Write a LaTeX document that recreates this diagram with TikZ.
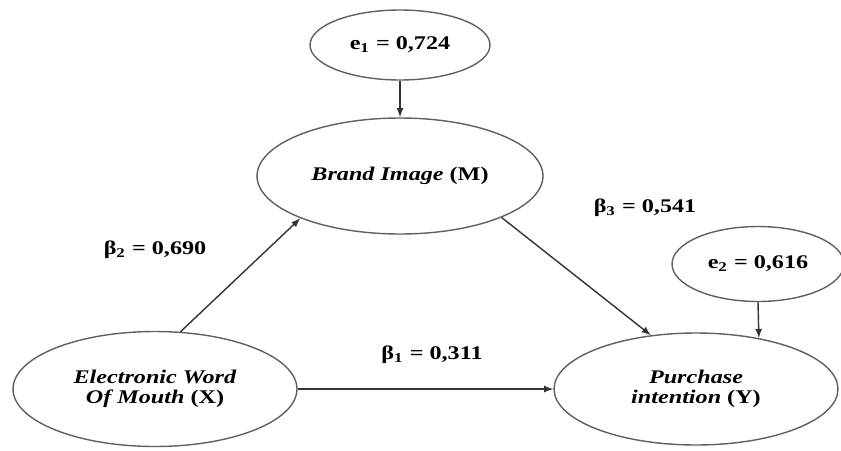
\documentclass[tikz,border=0pt]{standalone}
\usepackage{fontspec}
\setmainfont{Liberation Serif}
\usetikzlibrary{shapes,arrows}
\newcommand{\wtext}[1]{\scalebox{1.25}[1]{#1}}
\tikzstyle{latent}=[draw=gray!75!black, line width=0.8pt, ellipse, inner sep=0pt, align=center, font=\fontsize{11}{11.5}\selectfont\bfseries]
\tikzstyle{coef}=[font=\fontsize{11}{11.5}\selectfont\bfseries]
\tikzstyle{arrow}=[draw=black!80, line width=0.8pt, -latex]

\begin{document}
\begin{tikzpicture}[x=0.02cm,y=-0.02cm]
\useasboundingbox (0,0) rectangle (841,450);

\node (eone) [latent, minimum width=3.6cm, minimum height=1.4cm] at (400,45) {\wtext{e\textsubscript{1} = 0,724}};
\node (brand) [latent, minimum width=5.72cm, minimum height=2.32cm] at (400,176) {\wtext{\textit{Brand Image} (M)}};
\node (ewom) [latent, minimum width=5.68cm, minimum height=2.3cm] at (155,389) {\wtext{\textit{Electronic Word}}\\ \wtext{\textit{Of Mouth} (X)}};
\node (pi) [latent, minimum width=5.68cm, minimum height=2.24cm] at (696,389) {\wtext{\textit{Purchase}}\\ \wtext{\textit{intention} (Y)}};
\node (etwo) [latent, minimum width=3.44cm, minimum height=1.5cm] at (758,264) {\wtext{e\textsubscript{2} = 0,616}};

\node (btwo) [coef] at (155,250) {\wtext{β\textsubscript{2} = 0,690}};
\node (bthree) [coef] at (645,208) {\wtext{β\textsubscript{3} = 0,541}};
\node (bone) [coef] at (432,355) {\wtext{β\textsubscript{1} = 0,311}};

\draw [arrow] (eone) -- (brand);
\draw [arrow] (ewom.66) -- (brand.-157);
\draw [arrow] (brand.south east) -- (pi.130);
\draw [arrow] (ewom.east) -- (pi.west);
\draw [arrow] (etwo.south) -- (pi.39);

\end{tikzpicture}
\end{document}
